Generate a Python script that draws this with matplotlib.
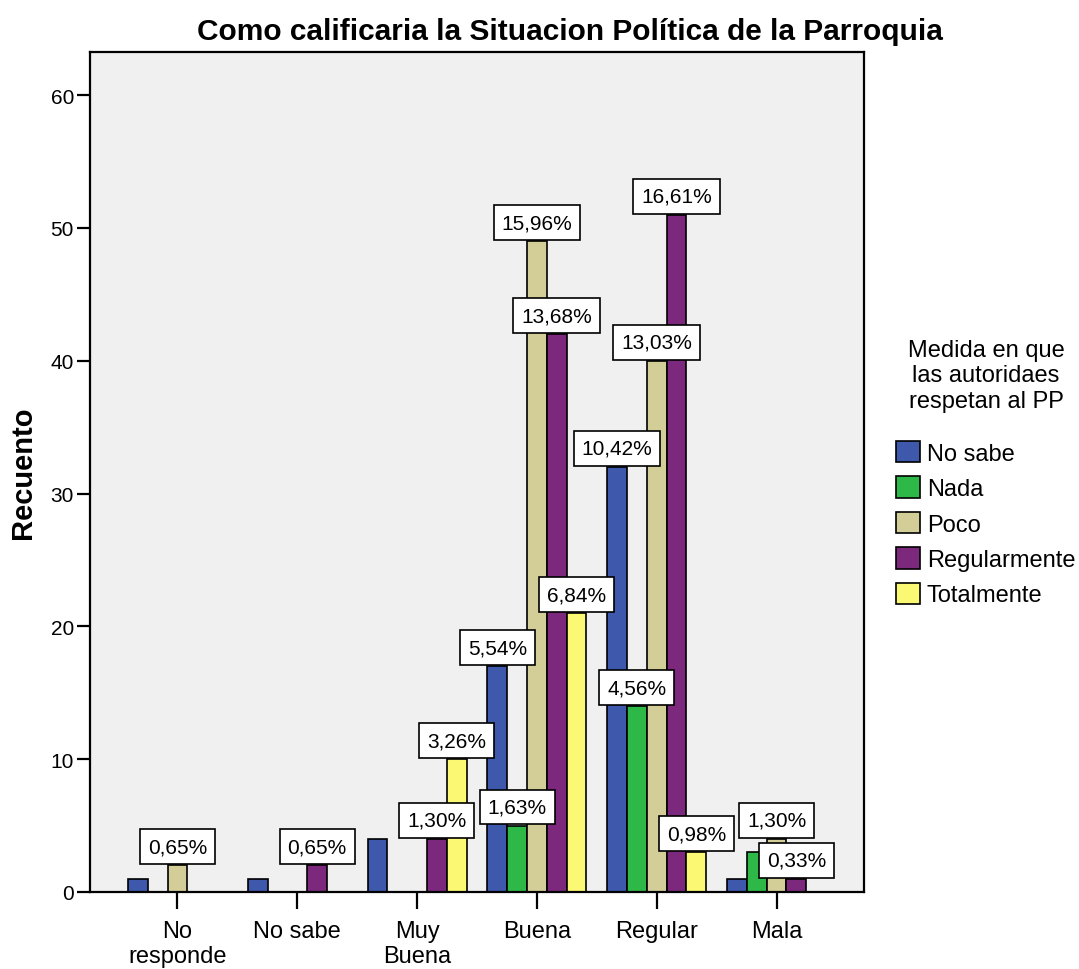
import matplotlib
matplotlib.use("Agg")
import matplotlib.pyplot as plt
from matplotlib.patches import Patch
import numpy as np

plt.rcParams['font.family'] = ['Liberation Sans', 'DejaVu Sans']

# datos
categorias = ["No\nresponde", "No sabe", "Muy\nBuena", "Buena", "Regular", "Mala"]
series = ["No sabe", "Nada", "Poco", "Regularmente", "Totalmente"]
colores = ["#3E58AC", "#2EB848", "#D3CE97", "#7C287D", "#FBF873"]

# recuento por serie (filas) y categoria (columnas)
no_sabe = [1, 1, 4, 17, 32, 1]
nada = [0, 0, 0, 5, 14, 3]
poco = [2, 0, 0, 49, 40, 4]
regularmente = [0, 2, 4, 42, 51, 1]
totalmente = [0, 0, 10, 21, 3, 0]

# que barras llevan etiqueta de porcentaje
etiq_no_sabe = [0, 0, 0, 1, 1, 0]
etiq_nada = [0, 0, 0, 1, 1, 0]
etiq_poco = [1, 0, 0, 1, 1, 1]
etiq_regularmente = [0, 1, 1, 1, 1, 1]
etiq_totalmente = [0, 0, 1, 1, 1, 0]

valores = np.array([no_sabe, nada, poco, regularmente, totalmente])
etiquetas = np.array([etiq_no_sabe, etiq_nada, etiq_poco, etiq_regularmente, etiq_totalmente])
total = valores.sum()

fig = plt.figure(figsize=(10.79, 9.70), dpi=100)
ax = fig.add_axes([90 / 1079, 1 - 893 / 970, (864 - 90) / 1079, (893 - 53) / 970])
ax.set_facecolor("#F0F0F0")

x = np.arange(len(categorias))
ancho = 0.165

for i, nombre in enumerate(series):
    pos = x + (i - 2) * ancho
    for j in range(len(categorias)):
        if valores[i, j] > 0:
            ax.bar(pos[j], valores[i, j], width=ancho, color=colores[i],
                   edgecolor="black", linewidth=1.2, zorder=2)

# etiquetas en cajas blancas (despues de las barras)
for i in range(len(series)):
    pos = x + (i - 2) * ancho
    for j in range(len(categorias)):
        if etiquetas[i, j]:
            txt = f"{100 * valores[i, j] / total:.2f}%".replace(".", ",")
            ax.annotate(txt, xy=(pos[j], valores[i, j]), xytext=(0, 6.5),
                        textcoords="offset points", ha="center", va="bottom",
                        fontsize=15, zorder=5,
                        bbox=dict(boxstyle="square,pad=0.38", fc="white",
                                  ec="black", lw=1.2))

ax.set_xlim(-0.73, 5.73)
ax.set_ylim(0, 63.25)
ax.set_yticks([0, 10, 20, 30, 40, 50, 60])
ax.set_xticks(x)
ax.set_xticklabels(categorias, fontsize=17, linespacing=1.2)
ax.tick_params(axis="x", length=12, width=1.6, pad=8)
ax.tick_params(axis="y", length=9.5, width=1.6, labelsize=15, pad=2)
for s in ax.spines.values():
    s.set_linewidth(1.6)

ax.set_ylabel("Recuento", fontsize=21, fontweight="bold", labelpad=10)
fig.text(570 / 1079, 1 - 32 / 970, "Como calificaria la Situacion Política de la Parroquia",
         ha="center", va="center", fontsize=21.5, fontweight="bold")

# titulo de la leyenda como texto aparte
fig.text(986 / 1079, 1 - 340 / 970, "Medida en que\nlas autoridaes\nrespetan al PP",
         ha="center", va="top", fontsize=17, linespacing=1.2, multialignment="center")

handles = [Patch(facecolor=c, edgecolor="black", linewidth=1.2) for c in colores]
leg = fig.legend(handles, series, loc="upper left", bbox_to_anchor=(896 / 1079, 1 - 442 / 970),
                 frameon=False, fontsize=17, handlelength=1.0, handleheight=1.0,
                 handletextpad=0.3, labelspacing=0.5, borderpad=0, borderaxespad=0)

fig.savefig("out.png", dpi=100)
